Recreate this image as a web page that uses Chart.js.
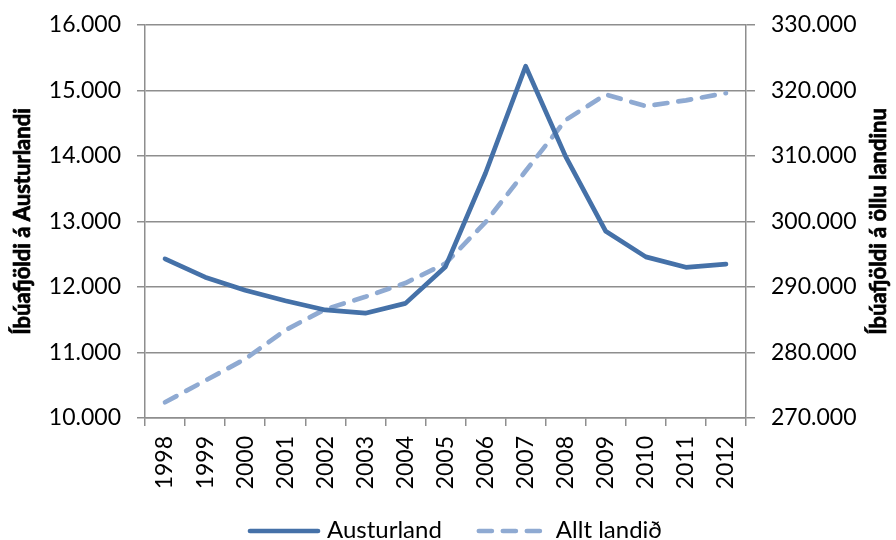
<!DOCTYPE html>
<html>
<head>
<meta charset="utf-8">
<script src="https://cdn.jsdelivr.net/npm/chart.js@4.4.1/dist/chart.umd.min.js"></script>
<style>
  html, body { margin: 0; padding: 0; background: #fff; }
  #chart { display: block; }
</style>
</head>
<body>
<canvas id="chart" width="896" height="540"></canvas>
<script>
// Íbúafjöldi 1998-2012
const years = ['1998', '1999', '2000', '2001', '2002', '2003', '2004', '2005',
               '2006', '2007', '2008', '2009', '2010', '2011', '2012'];
const austurland = [12430, 12150, 11950, 11790, 11650, 11600, 11750, 12310,
                    13740, 15370, 13990, 12850, 12460, 12300, 12350];
const alltLandid = [272400, 275700, 279000, 283400, 286600, 288500, 290600, 293600,
                    299900, 307700, 315500, 319400, 317600, 318500, 319600];
const leftTicks = [10000, 11000, 12000, 13000, 14000, 15000, 16000];
const rightTicks = [270000, 280000, 290000, 300000, 310000, 320000, 330000];
const leftTitle = 'Íbúafjöldi á Austurlandi';
const rightTitle = 'Íbúafjöldi á öllu landinu';

const FONT = 'Lato, "Open Sans", sans-serif';
const GRID = '#8e8e8e';

// 16000 -> "16.000"
function fmt(v) {
    return Math.round(v).toString().replace(/\B(?=(\d{3})+(?!\d))/g, '.');
}

// axis titles + legend drawn by hand so they sit where Excel put them
const extras = {
    id: 'extras',
    afterDraw(chart) {
        const ctx = chart.ctx;
        const area = chart.chartArea;
        const midY = (area.top + area.bottom) / 2;

        ctx.save();
        ctx.fillStyle = '#000';
        ctx.strokeStyle = '#000';
        ctx.lineWidth = 0.7;   // Calibri bold is heavier than Lato bold
        ctx.font = 'bold 22px ' + FONT;
        ctx.textAlign = 'center';
        ctx.textBaseline = 'middle';
        [[leftTitle, 23], [rightTitle, 879]].forEach(([txt, x]) => {
            ctx.save();
            ctx.translate(x, midY);
            ctx.rotate(-Math.PI / 2);
            ctx.fillText(txt, 0, 0);
            ctx.strokeText(txt, 0, 0);
            ctx.restore();
        });
        ctx.restore();

        // legend
        ctx.save();
        ctx.font = '24px ' + FONT;
        ctx.textBaseline = 'alphabetic';
        ctx.textAlign = 'left';
        let x = 250;
        const y = 531;
        chart.data.datasets.forEach(ds => {
            ctx.beginPath();
            ctx.strokeStyle = ds.borderColor;
            ctx.lineWidth = ds.borderWidth;
            ctx.lineCap = 'round';
            ctx.setLineDash(ds.borderDash || []);
            ctx.moveTo(x, y);
            ctx.lineTo(x + 68, y);
            ctx.stroke();
            ctx.setLineDash([]);
            x += 77;
            ctx.fillStyle = '#000';
            ctx.fillText(ds.label, x, 538);
            x += ctx.measureText(ds.label).width + 37;
        });
        ctx.restore();
    }
};

// keep the plot area where Excel had it, no extra room for the end labels
function noVPad(scale) {
    scale.paddingTop = 0;
    scale.paddingBottom = 0;
}

new Chart(document.getElementById('chart'), {
    type: 'line',
    data: {
        labels: years,
        datasets: [
            {
                label: 'Austurland',
                data: austurland,
                yAxisID: 'y',
                borderColor: '#4571a8',
                borderWidth: 4.7,
                borderCapStyle: 'round',
                borderJoinStyle: 'round',
                pointRadius: 0,
                tension: 0
            },
            {
                label: 'Allt landið',
                data: alltLandid,
                yAxisID: 'y1',
                borderColor: '#8faad2',
                borderWidth: 4.7,
                borderDash: [13, 11],
                borderCapStyle: 'round',
                borderJoinStyle: 'round',
                pointRadius: 0,
                tension: 0
            }
        ]
    },
    options: {
        responsive: false,
        animation: false,
        layout: { padding: { top: 25, left: 0, right: 0, bottom: 44 } },
        plugins: {
            legend: { display: false },
            tooltip: { enabled: false }
        },
        scales: {
            x: {
                position: 'bottom',
                offset: true,
                grid: {
                    offset: true,
                    drawOnChartArea: false,
                    drawTicks: true,
                    tickLength: 8,
                    color: GRID,
                    lineWidth: 1.5
                },
                border: { color: GRID, width: 1.5 },
                ticks: {
                    minRotation: 90,
                    maxRotation: 90,
                    autoSkip: false,
                    padding: 10,
                    color: '#000',
                    font: { family: FONT, size: 23 }
                },
                afterFit(scale) { scale.height = 78; }
            },
            y: {
                position: 'left',
                min: leftTicks[0],
                max: leftTicks[leftTicks.length - 1],
                afterBuildTicks(scale) { scale.ticks = leftTicks.map(v => ({ value: v })); },
                grid: { color: GRID, lineWidth: 1.5, tickLength: 8 },
                border: { color: GRID, width: 1.5 },
                ticks: {
                    padding: 16,
                    color: '#000',
                    font: { family: FONT, size: 23 },
                    callback: v => fmt(v)
                },
                afterFit(scale) { scale.width = 145; noVPad(scale); }
            },
            y1: {
                position: 'right',
                min: rightTicks[0],
                max: rightTicks[rightTicks.length - 1],
                afterBuildTicks(scale) { scale.ticks = rightTicks.map(v => ({ value: v })); },
                grid: { drawOnChartArea: false, color: GRID, lineWidth: 1.5, tickLength: 9 },
                border: { color: GRID, width: 1.5 },
                ticks: {
                    padding: 16,
                    color: '#000',
                    font: { family: FONT, size: 23 },
                    callback: v => fmt(v)
                },
                afterFit(scale) { scale.width = 150; noVPad(scale); }
            }
        }
    },
    plugins: [extras]
});
</script>
</body>
</html>
